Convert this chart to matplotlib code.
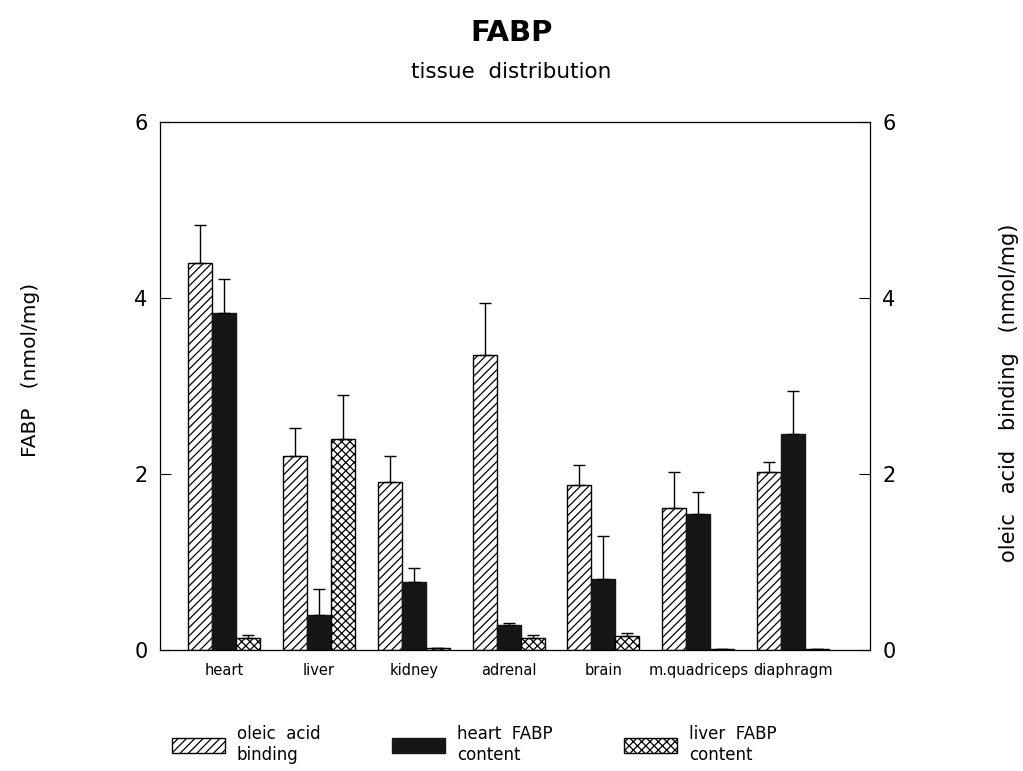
import matplotlib.pyplot as plt
import numpy as np

plt.rcParams['font.family'] = ['DejaVu Sans']
plt.rcParams['hatch.linewidth'] = 0.9

# tissues on the x axis
tissues = ['heart', 'liver', 'kidney', 'adrenal', 'brain', 'm.quadriceps', 'diaphragm']

# oleic acid binding (nmol/mg) with upper error
oleic = [4.40, 2.21, 1.91, 3.35, 1.87, 1.61, 2.02]
oleic_err = [0.43, 0.31, 0.29, 0.59, 0.23, 0.41, 0.12]
# heart FABP content
hfabp = [3.83, 0.40, 0.77, 0.28, 0.81, 1.55, 2.45]
hfabp_err = [0.39, 0.29, 0.16, 0.03, 0.48, 0.25, 0.49]
# liver FABP content
lfabp = [0.14, 2.40, 0.02, 0.14, 0.16, 0.01, 0.01]
lfabp_err = [0.03, 0.50, 0.0, 0.03, 0.03, 0.0, 0.0]

fig = plt.figure(figsize=(10.23, 7.71), dpi=100)
ax = fig.add_axes([0.1564, 0.1569, 0.694, 0.6849])

x = np.arange(len(tissues))
w = 0.253
ek = dict(ecolor='black', elinewidth=1.0, capsize=4.5, capthick=1.0)

def up(err):
    return [np.zeros(len(err)), err]

b1 = ax.bar(x - w, oleic, w, yerr=up(oleic_err), color='white', edgecolor='black',
            hatch='////', linewidth=1.0, error_kw=ek, label='oleic  acid\nbinding')
b2 = ax.bar(x, hfabp, w, yerr=up(hfabp_err), color='#161616', edgecolor='#161616',
            linewidth=1.0, error_kw=ek, label='heart  FABP\ncontent')
b3 = ax.bar(x + w, lfabp, w, yerr=up(lfabp_err), color='white', edgecolor='black',
            hatch='xxxx', linewidth=1.0, error_kw=ek, label='liver  FABP\ncontent')

ax.set_xlim(-0.675, 6.81)
ax.set_ylim(0, 6)
ax.set_yticks([0, 2, 4, 6])
ax.set_xticks(x)
ax.set_xticklabels(tissues, fontsize=10.5)
ax.tick_params(axis='x', length=0, pad=9)
ax.tick_params(axis='y', direction='in', length=8, right=True, labelright=True,
               labelsize=15, pad=9, width=0.8)
for s in ax.spines.values():
    s.set_linewidth(0.9)

fig.text(0.5, 0.957, 'FABP', ha='center', va='center', fontsize=21, fontweight='bold')
fig.text(0.5, 0.907, 'tissue  distribution', ha='center', va='center', fontsize=15.5)
fig.text(0.030, 0.52, 'FABP   (nmol/mg)', rotation=90, ha='center', va='center', fontsize=14.5)
fig.text(0.986, 0.49, 'oleic   acid   binding   (nmol/mg)', rotation=90, ha='center',
         va='center', fontsize=15)

fig.legend(handles=[b1, b2, b3], loc='upper left', bbox_to_anchor=(0.153, 0.079),
           ncol=3, frameon=False, fontsize=12, handlelength=3.2, handleheight=1.0,
           columnspacing=4.3, handletextpad=0.7)

plt.savefig('out.png', dpi=100)
